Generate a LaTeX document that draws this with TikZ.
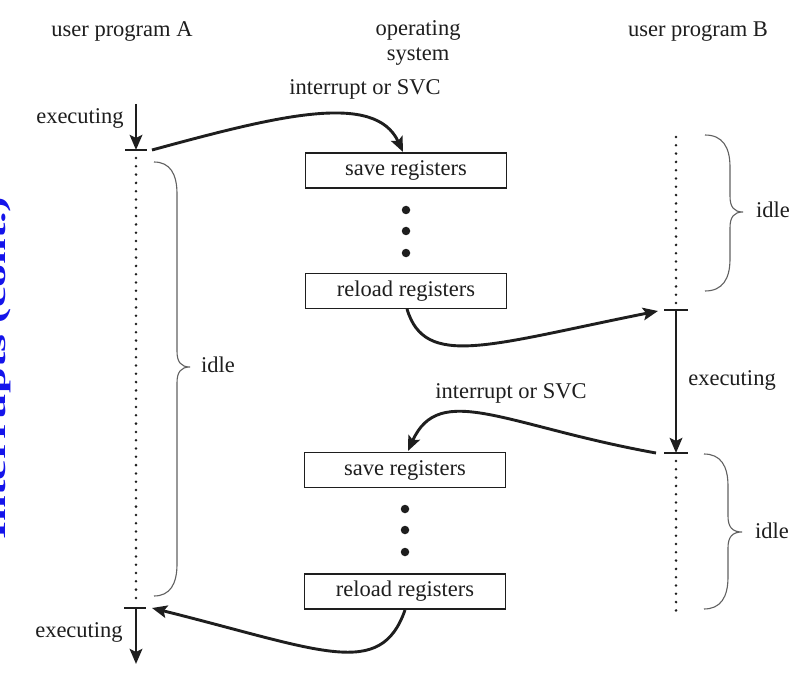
\documentclass[tikz,border=0pt]{standalone}
\usepackage{fontspec}
\setmainfont{Liberation Serif}
\usetikzlibrary{arrows.meta}

% curly brace opening to the right:
% #1 x of the ends, #2 y top, #3 y bottom, #4 x of the stem, #5 x of the tip, #6 y of the tip
\newcommand\idlebrace[6]{%
  \draw[bracepath] (#1,#2) .. controls ({#1+0.7*(#4-#1)},#2) and (#4,{#2+12}) .. (#4,{#2+32})
    -- (#4,{#6-16}) .. controls (#4,{#6-5}) and ({#4+0.3*(#5-#4)},#6) .. (#5,#6)
    .. controls ({#4+0.3*(#5-#4)},#6) and (#4,{#6+5}) .. (#4,{#6+16})
    -- (#4,{#3-32}) .. controls (#4,{#3-12}) and ({#1+0.7*(#4-#1)},#3) .. (#1,#3);}

\definecolor{ink}{RGB}{30,30,30}
\definecolor{titleblue}{RGB}{20,20,235}

\begin{document}
\begin{tikzpicture}[x=1pt,y=-1pt,
  lbl/.style={font=\fontsize{22.5}{26}\selectfont, text=ink, inner sep=0pt, anchor=base},
  regbox/.style={draw=ink, line width=1.5pt, minimum width=201pt, minimum height=35pt,
    inner sep=0pt, text=ink, font=\fontsize{22.5}{26}\selectfont},
  flow/.style={draw=ink, line width=2.9pt, -{Stealth[length=15pt,width=12.5pt,inset=3pt]}},
  tickmark/.style={draw=ink, line width=1.3pt},
  timeline/.style={draw=ink, line width=2.8pt, dash pattern=on 0pt off 8.3pt, line cap=round},
  bracepath/.style={line width=1.1pt, draw=black!62},
  bigdot/.style={circle, fill=ink, inner sep=0pt, minimum size=8.5pt}
]
\fill[white] (0,0) rectangle (812,682);
\useasboundingbox (0,0) rectangle (812,682);

% side title, cut by the page edge
\node[font=\fontsize{46}{46}\selectfont\bfseries, text=titleblue, rotate=90, yscale=0.55,
  anchor=base, inner sep=0pt] (title) at (5.5,368) {Interrupts (cont.)};

% column headings
\node[lbl] (hA) at (122,37) {user program A};
\node[lbl] (osa) at (418,36) {operating};
\node[lbl] (osb) at (418,61) {system};
\node[lbl] (hB) at (698,37) {user program B};

% operating system steps
\node[regbox] (save1) at (406,170.5) {save registers};
\node[bigdot] (d11) at (406,210) {};
\node[bigdot] (d12) at (406,231) {};
\node[bigdot] (d13) at (406,253) {};
\node[regbox] (reload1) at (406,291) {reload registers};

\node[regbox] (save2) at (405,470) {save registers};
\node[bigdot] (d21) at (405,509) {};
\node[bigdot] (d22) at (405,530) {};
\node[bigdot] (d23) at (405,552) {};
\node[regbox] (reload2) at (405,591.5) {reload registers};

% program A time line
\coordinate (Astart) at (136,104);
\coordinate (Atop) at (136,150);
\coordinate (Adot1) at (136,158);
\coordinate (Adot2) at (136,602);
\coordinate (Abot) at (136,608);
\coordinate (Aend) at (136,664);
\coordinate (Atl) at (125,150); \coordinate (Atr) at (147,150);
\coordinate (Abl) at (124,608); \coordinate (Abr) at (146,608);

\draw[flow] (Astart) -- (Atop);
\draw[tickmark] (Atl) -- (Atr);
\draw[timeline] (Adot1) -- (Adot2);
\draw[tickmark] (Abl) -- (Abr);
\draw[flow] (Abot) -- (Aend);

% program B time line
\coordinate (Bdot1) at (676,137);
\coordinate (Bdot2) at (676,304);
\coordinate (Btop) at (676,310);
\coordinate (Bbot) at (676,453);
\coordinate (Bdot3) at (676,461);
\coordinate (Bdot4) at (676,612);
\coordinate (Btl) at (664,310); \coordinate (Btr) at (688,310);
\coordinate (Bbl) at (664,453); \coordinate (Bbr) at (688,453);

\draw[timeline] (Bdot1) -- (Bdot2);
\draw[tickmark] (Btl) -- (Btr);
\draw[flow] (Btop) -- (Bbot);
\draw[tickmark] (Bbl) -- (Bbr);
\draw[timeline] (Bdot3) -- (Bdot4);

% labels
\node[lbl] (exA1) at (80,124) {executing};
\node[lbl] (exA2) at (79,637) {executing};
\node[lbl] (exB) at (732,385) {executing};
\node[lbl] (irq1) at (365,95) {interrupt or SVC};
\node[lbl] (irq2) at (511,398) {interrupt or SVC};

% braces
\idlebrace{154}{162}{596}{177}{190}{367}
\idlebrace{705}{135}{291}{730}{743}{212}
\idlebrace{704}{454}{609}{728}{742}{532}
\node[lbl, anchor=base west] (idleA) at (201,372) {idle};
\node[lbl, anchor=base west] (idleB1) at (756,218) {idle};
\node[lbl, anchor=base west] (idleB2) at (755,538) {idle};

% control transfers
\coordinate (c1s) at (152,150);  \coordinate (c1e) at (403,152);
\coordinate (c2s) at (407,309);  \coordinate (c2e) at (658,311);
\coordinate (c3s) at (656,453);  \coordinate (c3e) at (408,451);
\coordinate (c4s) at (405,610);  \coordinate (c4e) at (152,608);

\draw[flow] (c1s) .. controls (277,116) and (375,91) .. (c1e);
\draw[flow] (c2s) .. controls (425,369) and (488,345) .. (c2e);
\draw[flow] (c3s) .. controls (506,426) and (439.5,381) .. (c3e);
\draw[flow] (c4s) .. controls (380.5,680) and (322,650.5) .. (c4e);
\end{tikzpicture}
\end{document}
